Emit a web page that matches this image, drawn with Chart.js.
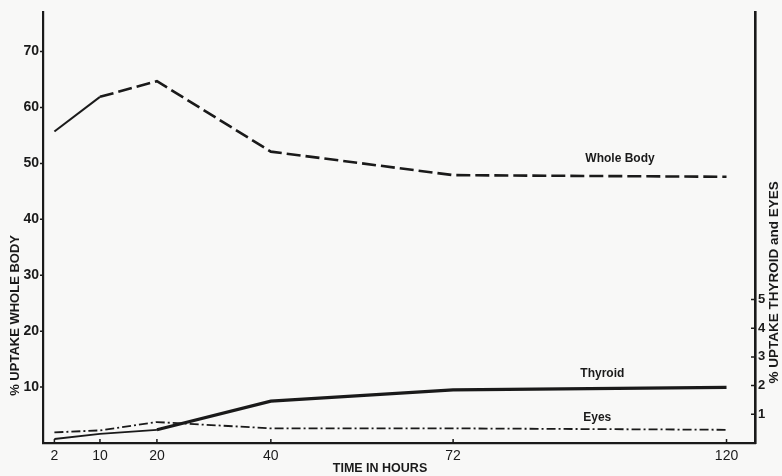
<!DOCTYPE html>
<html>
<head>
<meta charset="utf-8">
<script src="https://cdn.jsdelivr.net/npm/chart.js@4"></script>
<style>
  html, body { margin: 0; padding: 0; background: #f8f8f7; }
  #wrap { width: 782px; height: 476px; position: relative; }
</style>
</head>
<body>
<div id="wrap"><canvas id="c" width="782" height="476"></canvas></div>
<script>
// ---- data ----
const hours = [2, 10, 20, 40, 72, 120];
const wholeBody = [55.7, 61.9, 64.7, 52.1, 47.9, 47.6];
const thyroid = [0.14, 0.32, 0.46, 1.46, 1.85, 1.94];
const eyes = [0.37, 0.44, 0.73, 0.51, 0.51, 0.46];
const leftTicks = [10, 20, 30, 40, 50, 60, 70];
const rightTicks = [1, 2, 3, 4, 5];
const xTicks = [2, 10, 20, 40, 72, 120];
const seriesNames = ['Whole Body', 'Thyroid', 'Eyes'];
const leftTitle = '% UPTAKE WHOLE BODY';
const rightTitle = '% UPTAKE THYROID and EYES';
const xTitle = 'TIME IN HOURS';

const INK = '#1a1a1a';
const FONT = '"Liberation Sans", Arial, sans-serif';

function pts(vals) { return hours.map((h, i) => ({ x: h, y: vals[i] })); }

const decor = {
  id: 'decor',
  afterDraw(chart) {
    const { ctx, chartArea: a, scales } = chart;
    const x = scales.x, yl = scales.y, yr = scales.y1;
    ctx.save();
    ctx.strokeStyle = INK;
    ctx.lineWidth = 1.5;
    // tick marks
    ctx.beginPath();
    leftTicks.forEach(v => { const p = yl.getPixelForValue(v); ctx.moveTo(a.left - 3, p); ctx.lineTo(a.left, p); });
    rightTicks.forEach(v => { const p = yr.getPixelForValue(v); ctx.moveTo(a.right - 4, p); ctx.lineTo(a.right, p); });
    xTicks.forEach(v => { const p = x.getPixelForValue(v); ctx.moveTo(p, a.bottom); ctx.lineTo(p, a.bottom - 4); });
    ctx.stroke();

    ctx.fillStyle = INK;
    ctx.textAlign = 'center';
    ctx.textBaseline = 'middle';
    // series labels
    ctx.font = 'bold 12px ' + FONT;
    ctx.fillText(seriesNames[0], x.getPixelForValue(101.3), yl.getPixelForValue(50.8));
    ctx.fillText(seriesNames[1], x.getPixelForValue(98.2), yr.getPixelForValue(2.42));
    ctx.fillText(seriesNames[2], x.getPixelForValue(97.3), yr.getPixelForValue(0.87));

    // axis titles
    ctx.font = 'bold 12.5px ' + FONT;
    ctx.fillText(xTitle, a.left + 337, a.bottom + 26);
    ctx.font = 'bold 13px ' + FONT;
    ctx.save();
    ctx.translate(15, a.top + 303);
    ctx.rotate(-Math.PI / 2);
    ctx.fillText(leftTitle, 0, 0);
    ctx.restore();
    ctx.font = 'bold 13.5px ' + FONT;
    ctx.save();
    ctx.translate(a.right + 19, a.top + 270);
    ctx.rotate(-Math.PI / 2);
    ctx.fillText(rightTitle, 0, 0);
    ctx.restore();
    ctx.restore();
  }
};

new Chart(document.getElementById('c'), {
  type: 'line',
  data: {
    datasets: [
      {
        label: seriesNames[0], data: pts(wholeBody), yAxisID: 'y',
        borderColor: INK, borderWidth: 2.6, borderDash: [14, 5],
        pointRadius: 0, tension: 0,
        segment: { borderDash: c => c.p0DataIndex === 0 ? [] : [14, 5], borderWidth: c => c.p0DataIndex === 0 ? 2 : 2.6 }
      },
      {
        label: seriesNames[1], data: pts(thyroid), yAxisID: 'y1',
        borderColor: INK, borderWidth: 3, pointRadius: 0, tension: 0,
        segment: { borderWidth: c => c.p0DataIndex < 2 ? 1.8 : 3.2 }
      },
      {
        label: seriesNames[2], data: pts(eyes), yAxisID: 'y1',
        borderColor: INK, borderWidth: 1.8, borderDash: [9, 3, 2, 3],
        pointRadius: 0, tension: 0
      }
    ]
  },
  options: {
    responsive: false,
    animation: false,
    events: [],
    layout: { padding: { top: 8, left: 0, right: 0, bottom: 0 } },
    plugins: { legend: { display: false }, tooltip: { enabled: false }, title: { display: false } },
    scales: {
      x: {
        type: 'linear', min: 0, max: 125,
        afterBuildTicks: s => { s.ticks = xTicks.map(v => ({ value: v })); },
        afterFit: s => { s.height = 33; },
        grid: { display: false, drawTicks: false },
        border: { display: true, color: INK, width: 2.2 },
        ticks: { autoSkip: false, maxRotation: 0, padding: 5, color: INK, font: { family: FONT, size: 14 } }
      },
      y: {
        type: 'linear', position: 'left', min: 0, max: 77,
        afterBuildTicks: s => { s.ticks = leftTicks.map(v => ({ value: v })); },
        afterFit: s => { s.width = 43; },
        grid: { display: false, drawTicks: false },
        border: { display: true, color: INK, width: 2.2 },
        ticks: { padding: 4, color: INK, font: { family: FONT, size: 14, weight: 'bold' } }
      },
      y1: {
        type: 'linear', position: 'right', min: 0, max: 15,
        afterBuildTicks: s => { s.ticks = rightTicks.map(v => ({ value: v })); },
        afterFit: s => { s.width = 27; },
        grid: { display: false, drawTicks: false },
        border: { display: true, color: INK, width: 2.6 },
        ticks: { padding: 3, color: INK, font: { family: FONT, size: 13, weight: 'bold' } }
      }
    }
  },
  plugins: [decor]
});
</script>
</body>
</html>
